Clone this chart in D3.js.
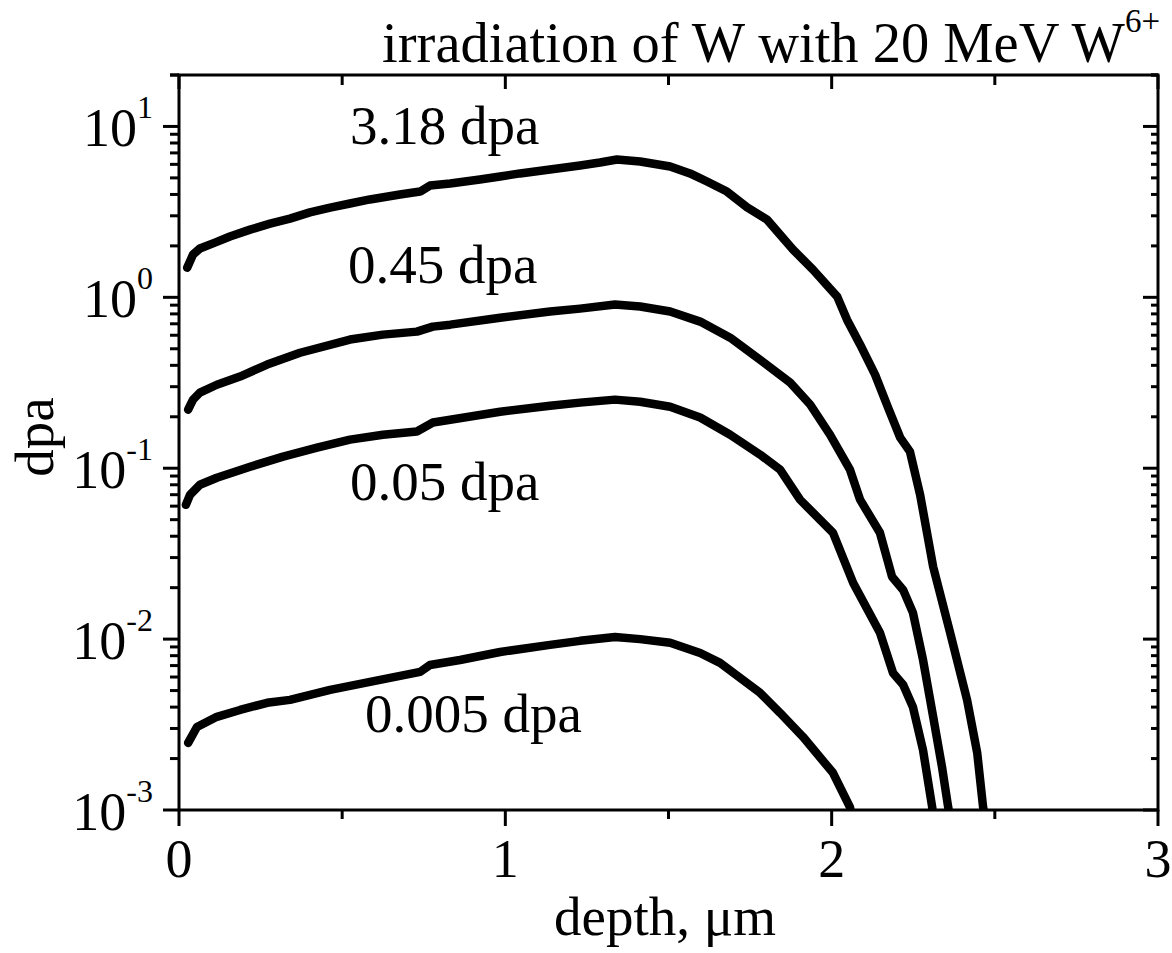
<!DOCTYPE html>
<style>
body { margin: 0; background: #fff; }
text { font-family: "Liberation Serif", "Times New Roman", serif; fill: #000; }
</style>
<svg width="1172" height="953" class="chart"></svg>
<script src="https://d3js.org/d3.v7.min.js"></script>
<script>

// depth (um) / dpa
var depth318 = [0.025,0.043,0.064,0.110,0.156,0.218,0.279,0.340,0.401,0.463,0.524,0.585,0.677,0.739,0.769,0.831,0.922,0.984,1.045,1.137,1.229,1.290,1.342,1.413,1.505,1.566,1.618,1.679,1.741,1.802,1.882,1.943,2.017,2.047,2.087,2.133,2.173,2.210,2.240,2.271,2.311,2.363,2.415,2.446,2.464,2.470];
var dpa318   = [1.49,1.78,1.93,2.09,2.27,2.49,2.70,2.89,3.14,3.35,3.54,3.74,4.00,4.16,4.51,4.64,4.89,5.09,5.31,5.60,5.91,6.15,6.41,6.24,5.83,5.31,4.76,4.16,3.36,2.85,1.90,1.45,1.01,0.74,0.53,0.353,0.226,0.151,0.125,0.070,0.0265,0.0109,0.0044,0.00216,0.00104,0.00090];

var depth045 = [0.028,0.043,0.064,0.116,0.187,0.270,0.371,0.524,0.625,0.729,0.778,0.831,0.984,1.137,1.229,1.336,1.413,1.505,1.597,1.689,1.781,1.873,1.934,1.995,2.056,2.087,2.148,2.185,2.219,2.249,2.280,2.311,2.338,2.357,2.363];
var dpa045   = [0.220,0.252,0.277,0.308,0.344,0.404,0.474,0.566,0.605,0.630,0.674,0.692,0.760,0.826,0.859,0.908,0.883,0.826,0.721,0.581,0.431,0.317,0.236,0.157,0.098,0.0655,0.0419,0.0232,0.0194,0.0143,0.00755,0.00351,0.00179,0.00104,0.00090];

var depth005 = [0.021,0.034,0.064,0.116,0.218,0.319,0.423,0.524,0.625,0.729,0.778,0.831,0.984,1.137,1.229,1.336,1.413,1.505,1.597,1.689,1.781,1.842,1.903,2.004,2.066,2.148,2.188,2.219,2.249,2.280,2.308,2.312];
var dpa005   = [0.0611,0.070,0.080,0.088,0.102,0.117,0.132,0.147,0.157,0.164,0.185,0.192,0.214,0.232,0.242,0.252,0.245,0.229,0.198,0.157,0.120,0.098,0.0655,0.0419,0.0213,0.0109,0.00634,0.00540,0.00401,0.00224,0.00104,0.00090];

var depth0005 = [0.028,0.055,0.116,0.187,0.270,0.340,0.463,0.616,0.739,0.769,0.861,0.984,1.137,1.229,1.336,1.413,1.505,1.597,1.658,1.781,1.842,1.912,2.004,2.056,2.062];
var dpa0005   = [0.00247,0.00306,0.00351,0.00385,0.00424,0.00441,0.00505,0.00577,0.00643,0.00706,0.00755,0.00841,0.00925,0.00977,0.0103,0.0100,0.00951,0.00830,0.00726,0.00484,0.00370,0.00268,0.00165,0.00104,0.00090];

var seriesNames = ["3.18 dpa", "0.45 dpa", "0.05 dpa", "0.005 dpa"];
// label anchor (depth, dpa) for each curve's text
var labelDepth = [0.524, 0.518, 0.524, 0.570];
var labelDpa   = [7.85, 1.22, 0.0655, 0.00287];

var xTicks = [0, 0.5, 1, 1.5, 2, 2.5, 3];
var xTickLabels = ["0", "", "1", "", "2", "", "3"];
var yDecades = [-3, -2, -1, 0, 1];

var series = [
  {name: seriesNames[0], values: depth318.map(function(d, i) { return [d, dpa318[i]]; })},
  {name: seriesNames[1], values: depth045.map(function(d, i) { return [d, dpa045[i]]; })},
  {name: seriesNames[2], values: depth005.map(function(d, i) { return [d, dpa005[i]]; })},
  {name: seriesNames[3], values: depth0005.map(function(d, i) { return [d, dpa0005[i]]; })}
];

var svg = d3.select(".chart"),
    margin = {top: 75, right: 14, bottom: 143, left: 179},
    width = +svg.attr("width") - margin.left - margin.right,
    height = +svg.attr("height") - margin.top - margin.bottom,
    g = svg.append("g").attr("transform", "translate(" + margin.left + "," + margin.top + ")");

var x = d3.scaleLinear().domain([0, 3]).range([0, width]);
var y = d3.scaleLog().domain([1e-3, 20]).range([height, 0]);

var minorY = [];
yDecades.forEach(function(e) {
  for (var k = 1; k <= 9; k++) {
    var v = k * Math.pow(10, e);
    if (v <= 20) minorY.push(v);
  }
});
minorY.push(20);

g.append("clipPath").attr("id", "clip")
  .append("rect").attr("width", width).attr("height", height);

var line = d3.line()
    .x(function(d) { return x(d[0]); })
    .y(function(d) { return y(d[1]); });

g.append("g").attr("clip-path", "url(#clip)")
  .selectAll("path")
  .data(series)
  .enter().append("path")
    .attr("d", function(d) { return line(d.values); })
    .attr("fill", "none")
    .attr("stroke", "#000")
    .attr("stroke-width", 8.5)
    .attr("stroke-linejoin", "round")
    .attr("stroke-linecap", "round");

// frame
g.append("rect")
    .attr("width", width).attr("height", height)
    .attr("fill", "none").attr("stroke", "#000").attr("stroke-width", 3);

function isDecade(v) { return Math.abs(Math.log10(v) - Math.round(Math.log10(v))) < 1e-9; }

// y ticks: left outward, right inward
g.append("g").selectAll("line").data(minorY).enter().append("line")
    .attr("x1", function(d) { return isDecade(d) ? -16 : -9; })
    .attr("x2", 0)
    .attr("y1", function(d) { return y(d); }).attr("y2", function(d) { return y(d); })
    .attr("stroke", "#000").attr("stroke-width", 3);
g.append("g").selectAll("line").data(minorY).enter().append("line")
    .attr("x1", function(d) { return width - (isDecade(d) ? 15 : 7); })
    .attr("x2", width)
    .attr("y1", function(d) { return y(d); }).attr("y2", function(d) { return y(d); })
    .attr("stroke", "#000").attr("stroke-width", 3);

// x ticks: top and bottom, both pointing down
g.append("g").selectAll("line").data(xTicks).enter().append("line")
    .attr("x1", function(d) { return x(d); }).attr("x2", function(d) { return x(d); })
    .attr("y1", 0).attr("y2", function(d, i) { return xTickLabels[i] ? 14 : 10; })
    .attr("stroke", "#000").attr("stroke-width", 3);
g.append("g").selectAll("line").data(xTicks).enter().append("line")
    .attr("x1", function(d) { return x(d); }).attr("x2", function(d) { return x(d); })
    .attr("y1", height).attr("y2", function(d, i) { return height + (xTickLabels[i] ? 16 : 9); })
    .attr("stroke", "#000").attr("stroke-width", 3);

g.append("g").selectAll("text").data(xTicks).enter().append("text")
    .attr("x", function(d) { return x(d); })
    .attr("y", height + 67)
    .attr("text-anchor", "middle")
    .attr("font-size", 54)
    .text(function(d, i) { return xTickLabels[i]; });

var yl = g.append("g").selectAll("text").data(yDecades).enter().append("text")
    .attr("x", -26)
    .attr("y", function(d) { return y(Math.pow(10, d)) + 20; })
    .attr("text-anchor", "end")
    .attr("font-size", 54);
yl.append("tspan").text("10");
yl.append("tspan").attr("dy", -28).attr("font-size", 32).text(function(d) { return d; });

// curve labels
g.append("g").selectAll("text").data(seriesNames).enter().append("text")
    .attr("x", function(d, i) { return x(labelDepth[i]); })
    .attr("y", function(d, i) { return y(labelDpa[i]); })
    .attr("font-size", 55)
    .text(function(d) { return d; });

// axis titles
svg.append("text")
    .attr("x", 665).attr("y", 935)
    .attr("text-anchor", "middle")
    .attr("font-size", 55)
    .text("depth, \u03bcm");

svg.append("text")
    .attr("transform", "translate(53,437) rotate(-90)")
    .attr("text-anchor", "middle")
    .attr("font-size", 55)
    .text("dpa");

var title = svg.append("text")
    .attr("x", 1160).attr("y", 62)
    .attr("text-anchor", "end")
    .attr("font-size", 56.5);
title.append("tspan").text("irradiation of W with 20 MeV W");
title.append("tspan").attr("dy", -30).attr("font-size", 33).text("6+");

</script>
